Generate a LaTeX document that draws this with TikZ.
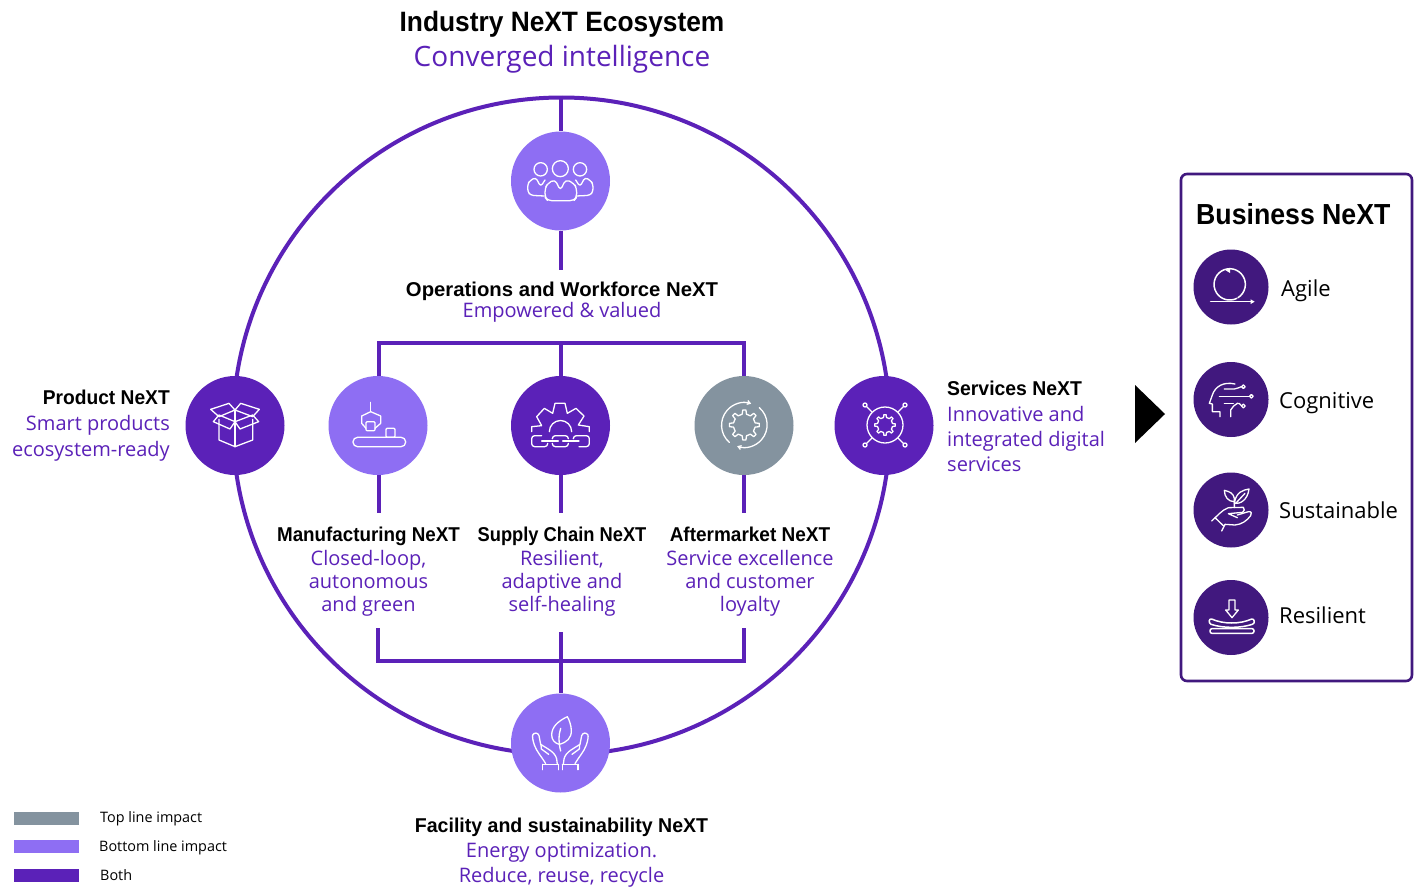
\documentclass[tikz,border=0pt]{standalone}
\usepackage{fontspec}
\usepackage{graphicx}
\setmainfont{Open Sans}
\newfontfamily\hfam{Liberation Sans}[BoldFont={Liberation Sans Bold}]
\usetikzlibrary{arrows.meta}
\definecolor{vio}{HTML}{5B21B8}
\definecolor{lav}{HTML}{8E6EF3}
\definecolor{slate}{HTML}{84939F}
\definecolor{deep}{HTML}{41187E}
\tikzset{
  x=1pt,y=-1pt,
  conn/.style={draw=vio,line width=4pt},
  bub/.style={circle,inner sep=0pt,minimum size=99pt,fill=#1},
  bus/.style={circle,inner sep=0pt,minimum size=75pt,fill=deep},
  icon/.style={draw=white,line width=1.3pt,line join=round,line cap=round},
  ttl/.style={inner sep=0pt,align=center},
  blk/.style={font=\fontsize{20}{23.4}\selectfont,inner sep=0pt},
  biz/.style={font=\fontsize{22}{26}\selectfont,inner sep=0pt,anchor=west},
  leg/.style={font=\fontsize{14.4}{16}\selectfont,inner sep=0pt,anchor=west},
  swatch/.style={minimum width=65pt,minimum height=13pt,inner sep=0pt,fill=#1},
}
\newcommand{\bh}[2]{\scalebox{#1}[1]{\hfam\bfseries\color{black}#2}}
\newcommand{\gearpath}[5]{% cx cy rout rin teeth
  \draw[icon,shift={(#1,#2)}] ({-90/#5*1.0}:#4)
    \foreach \i in {0,...,\numexpr#5-1\relax}{
      -- ({\i*360/#5-90/#5*0.55}:#3) -- ({\i*360/#5+90/#5*0.55}:#3)
      -- ({\i*360/#5+90/#5}:#4) -- ({\i*360/#5+270/#5}:#4)
    } -- cycle;}
\begin{document}
\begin{tikzpicture}
\useasboundingbox (0,0) rectangle (1418,886);
\fill[white] (0,0) rectangle (1418,886);
% ring and free ends
\node[circle,draw=vio,line width=4pt,inner sep=0pt,minimum size=657pt] (ring) at (561.5,426) {};
\coordinate (opsEnd) at (560.5,270);
\coordinate (busL) at (379,343);
\coordinate (busC) at (560.5,343);
\coordinate (busR) at (744,343);
\coordinate (mfgEnd) at (379,513);
\coordinate (supEnd) at (560.5,513);
\coordinate (aftEnd) at (744,513);
\coordinate (lowLT) at (377.5,628);
\coordinate (lowRT) at (744,628);
\coordinate (lowC) at (560.5,632);
\coordinate (lowB) at (560.5,661);
% bubbles
\node[bub=lav] (ops) at (560.5,181) {};
\node[bub=vio] (prod) at (235,425.5) {};
\node[bub=lav] (mfg) at (378,425.5) {};
\node[bub=vio] (sup) at (560.5,425.5) {};
\node[bub=slate] (aft) at (744,425.5) {};
\node[bub=vio] (srv) at (884,425.5) {};
\node[bub=lav] (fac) at (560.5,743) {};
% connectors
\draw[conn] (ops.north |- ring.north) -- (ops.north);
\draw[conn] (ops.south) -- (opsEnd);
\draw[conn] (mfg.north -| busL) |- (busR) -- (aft.north);
\draw[conn] (busC) -- (sup.north);
\draw[conn] (mfg.south -| mfgEnd) -- (mfgEnd);
\draw[conn] (sup.south) -- (supEnd);
\draw[conn] (aft.south) -- (aftEnd);
\draw[conn] (lowLT) |- (lowB) -| (lowRT);
\draw[conn] (lowC) -- (fac.north);
% ---- texts
\node[ttl,font=\fontsize{28}{32}\selectfont] (t1) at (562,24.5) {\bh{0.94}{Industry NeXT Ecosystem}};
\node[ttl,font=\fontsize{28}{32}\selectfont,text=vio] (t2) at (562,59) {Converged intelligence};
\node[blk,align=center,text=vio] (opst) at (562,302) {\bh{1.015}{Operations and Workforce NeXT}\\[-2pt]Empowered \& valued};
\node[blk,align=right,text=vio,anchor=east] (prodt) at (170,425.5) {\bh{0.96}{Product NeXT}\\[2.4pt]Smart products\\[2.4pt]ecosystem-ready};
\node[blk,align=left,text=vio,anchor=west] (srvt) at (947,426.5) {\bh{0.97}{Services NeXT}\\[1.8pt]Innovative and\\[1.8pt]integrated digital\\[1.8pt]services};
\node[blk,align=center,text=vio] (mfgt) at (368.5,572) {\bh{0.94}{Manufacturing NeXT}\\Closed-loop,\\autonomous\\and green};
\node[blk,align=center,text=vio] (supt) at (562,572) {\bh{0.915}{Supply Chain NeXT}\\Resilient,\\adaptive and\\self-healing};
\node[blk,align=center,text=vio] (aftt) at (750,572) {\bh{0.95}{Aftermarket NeXT}\\Service excellence\\and customer\\loyalty};
\node[blk,align=center,text=vio] (fact) at (561.5,853) {\bh{0.977}{Facility and sustainability NeXT}\\[1.6pt]Energy optimization.\\[1.6pt]Reduce, reuse, recycle};
% ---- right panel
\node[draw=deep,line width=2.6pt,rounded corners=6pt,minimum width=231pt,minimum height=507pt,inner sep=0pt] (panel) at (1296.5,427.5) {};
\node[font=\fontsize{29}{32}\selectfont,inner sep=0pt,anchor=west] (bizt) at (1196,214.5) {\bh{0.92}{Business NeXT}};
\node[bus] (agl) at (1231,287) {};
\node[bus] (cog) at (1231,399.5) {};
\node[bus] (sus) at (1231,510) {};
\node[bus] (res) at (1231,617.5) {};
\node[biz] (aglt) at (1281,290.5) {Agile};
\node[biz] (cogt) at (1279,403) {Cognitive};
\node[biz] (sust) at (1279,510.5) {Sustainable};
\node[biz] (rest) at (1279,615.5) {Resilient};
\fill[black] (1135,385) -- (1165,414) -- (1135,443) -- cycle;
% ---- legend
\node[swatch=slate] (l1) at (46.5,818.5) {};
\node[swatch=lav] (l2) at (46.5,846.5) {};
\node[swatch=vio] (l3) at (46.5,875.5) {};
\node[leg] at (100,819) {Top line impact};
\node[leg] at (99,848) {Bottom line impact};
\node[leg] at (100,875) {Both};
% ---- icons (coordinates are 3x crops)
\begin{scope}[shift={(180,360)},scale=0.33333]
 % box
 \draw[icon] (117,178)--(117,240)--(165,260)--(218,240)--(218,178);
 \draw[icon] (165,150)--(165,260);
 \draw[icon] (92,148)--(147,130)--(165,150)--(117,170)--cycle;
 \draw[icon] (165,150)--(182,130)--(238,148)--(218,170)--cycle;
 \draw[icon] (100,185)--(117,165)--(165,185)--(150,207)--cycle;
 \draw[icon] (165,185)--(218,165)--(236,185)--(180,207)--cycle;
 % manufacturing
 \draw[icon] (572,127)--(572,155);
 \draw[icon] (558,205)--(545,190)--(545,168)--(572,155)--(602,168)--(602,190)--(585,205);
 \draw[icon,rounded corners=1pt] (558,185) rectangle (585,212);
 \draw[icon,rounded corners=1pt] (618,205) rectangle (645,232);
 \draw[icon,rounded corners=4.5pt] (519,232) rectangle (677,260);
 % supply chain
 \draw[icon] (1055,215)--(1055,200)--(1085,197)--(1070,170)--(1093,145)--(1118,160)--(1125,130)--(1155,130)--(1162,160)--(1188,145)--(1212,168)--(1195,195)--(1228,200)--(1228,215);
 \draw[icon] (1108,215) arc[start angle=180,end angle=360,radius=33.5];
 \draw[icon,rounded corners=3pt] (1085,227)--(1055,227)--(1055,260)--(1103,260)--(1103,250);
 \draw[icon,rounded corners=3pt] (1117,235)--(1117,227)--(1165,227)--(1165,235);
 \draw[icon,rounded corners=3pt] (1117,250)--(1117,260)--(1165,260)--(1165,250);
 \draw[icon,rounded corners=3pt] (1180,235)--(1180,227)--(1228,227)--(1228,260)--(1197,260);
 \draw[icon] (1085,243)--(1135,243) (1148,243)--(1197,243);
\end{scope}
\begin{scope}[shift={(500,360)},scale=0.33333]
 % aftermarket
 \gearpath{733}{195}{45}{33}{8}
 \draw[icon,-{Straight Barb[length=3pt,width=4pt]}] (688,247) arc[start angle=131,end angle=288,radius=68];
 \draw[icon,-{Straight Barb[length=3pt,width=4pt]}] (778,143) arc[start angle=-49,end angle=109,radius=68];
 % services
 \draw[icon] (1155,195) circle[radius=54];
 \gearpath{1155}{195}{31}{23}{8}
 \foreach \xa/\ya/\xb/\yb in {1095/135/1116/156,1215/135/1194/156,1095/255/1116/234,1215/255/1194/234}{
   \draw[icon] (\xa,\ya) circle[radius=6];
   \draw[icon] ({\xa+(\xb-\xa)*0.2},{\ya+(\yb-\ya)*0.2}) -- (\xb,\yb);
 }
\end{scope}
\begin{scope}[shift={(500,120)},scale=0.33333]
 % people
 \draw[icon] (122,148) circle[radius=20] (181,146) circle[radius=24] (240,148) circle[radius=20];
 \draw[icon,rounded corners=4pt] (135,232)--(135,205)--(143,190)--(165,178)--(181,212)--(197,178)--(222,190)--(230,205)--(230,232)--(222,242)--(143,242)--cycle;
 \draw[icon,rounded corners=3pt] (133,228)--(92,226)--(83,215)--(83,192)--(90,182)--(107,172)--(122,200)--(135,180);
 \draw[icon,rounded corners=3pt] (229,228)--(270,226)--(279,215)--(279,192)--(272,182)--(255,172)--(240,200)--(227,180);
\end{scope}
\begin{scope}[shift={(500,685)},scale=0.33333]
 % leaf + hands
 \draw[icon] (202,95) .. controls (175,108) and (155,125) .. (155,150) .. controls (155,165) and (165,175) .. (178,178) .. controls (200,172) and (215,160) .. (214,135) .. controls (213,120) and (208,105) .. (202,95) -- cycle;
 \draw[icon] (182,130) .. controls (175,150) and (176,175) .. (182,198);
 \foreach \sc/\sh in {1/0,-1/362}{
 \begin{scope}[shift={(\sh,0)},xscale=\sc]
  \draw[icon] (137,236) .. controls (125,215) and (110,200) .. (103,180) .. controls (98,165) and (97,155) .. (98,150) .. controls (102,142) and (114,142) .. (117,152) -- (122,178) .. controls (140,190) and (165,200) .. (170,222) -- (172,238);
  \draw[icon] (123,178) -- (124,192) -- (146,208);
  \draw[icon] (128,238) -- (175,238) (128,238) -- (128,254) (175,238) -- (175,254);
 \end{scope}}
\end{scope}
\begin{scope}[shift={(1180,240)},scale=0.33333]
 % agile
 \draw[icon,line width=1.5pt] (92,185)--(217,185);
 \fill[white] (224,185)--(212,178)--(212,192)--cycle;
 \draw[icon,line width=1.5pt] (174,173) arc[start angle=58,end angle=-297,radius=47];
 \fill[white] (137,91)--(150,83)--(150,99)--cycle;
 % cognitive
 \draw[icon] (165,432) .. controls (130,424) and (105,440) .. (97,465) -- (88,490) -- (97,492) -- (97,515) -- (120,515) -- (120,530);
 \draw[icon] (152,530) -- (152,510) .. controls (156,500) and (165,495) .. (172,490) .. controls (177,488) and (180,492) .. (184,497);
 \draw[icon] (133,447) -- (163,447) .. controls (172,447) and (177,441) .. (184,440);
 \draw[icon] (190,440) circle[radius=5.5] (214,469) circle[radius=5.5] (190,498) circle[radius=5.5];
 \draw[icon] (118,469)--(208,469);
 \draw[icon] (133,490)--(160,490);
\end{scope}
\begin{scope}[shift={(1180,465)},scale=0.33333]
 % sustainable
 \draw[icon] (163,128) -- (163,100) .. controls (160,85) and (150,80) .. (133,76) .. controls (133,95) and (145,110) .. (162,110);
 \draw[icon] (163,115) .. controls (180,118) and (203,105) .. (207,72) .. controls (190,75) and (168,80) .. (163,115);
 \draw[icon] (167,115) -- (195,85);
 \draw[icon] (95,168) .. controls (110,155) and (125,135) .. (145,128) -- (190,127) .. controls (195,130) and (193,140) .. (188,142) -- (145,146) -- (172,158);
 \draw[icon] (172,150) -- (205,140) .. controls (215,138) and (216,146) .. (212,152) .. controls (200,168) and (185,178) .. (165,180) -- (135,178) -- (125,198);
 \draw[icon] (105,158) -- (130,182);
 % resilient
 \draw[icon] (147,405)--(165,405)--(165,435)--(175,435)--(156,458)--(137,435)--(147,435)--cycle;
 \draw[icon,line width=1.5pt] (95,462) .. controls (130,478) and (180,478) .. (215,462) .. controls (224,460) and (226,476) .. (217,478) .. controls (180,490) and (130,490) .. (93,478) .. controls (85,474) and (86,460) .. (95,462) -- cycle;
 \draw[icon,line width=1.5pt,rounded corners=2pt] (90,491) rectangle (222,505);
\end{scope}
\end{tikzpicture}
\end{document}
